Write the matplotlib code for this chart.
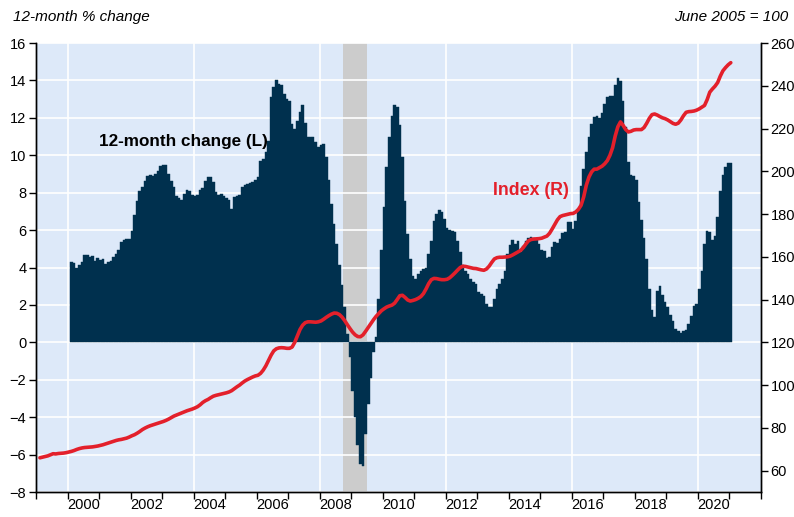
import numpy as np
import matplotlib
matplotlib.use("Agg")
import matplotlib.pyplot as plt

plt.rcParams['font.family'] = ['Liberation Sans', 'DejaVu Sans']

# 12-month % change, monthly, Feb 2000 .. Jan 2021
chg_2000 = [4.31, 4.22, 3.96, 4.15, 4.28, 4.67, 4.67, 4.55, 4.6, 4.37, 4.5]
chg_2001 = [4.4, 4.46, 4.2, 4.28, 4.37, 4.55, 4.72, 4.94, 5.35, 5.47, 5.5, 5.54]
chg_2002 = [5.97, 6.83, 7.58, 8.11, 8.29, 8.65, 8.9, 8.97, 8.9, 9.0, 9.18, 9.45]
chg_2003 = [9.5, 9.48, 9.0, 8.65, 8.29, 7.84, 7.72, 7.61, 7.93, 8.16, 8.11, 7.9]
chg_2004 = [7.84, 7.9, 8.15, 8.25, 8.65, 8.82, 8.82, 8.56, 8.02, 7.9, 7.93, 7.83]
chg_2005 = [7.72, 7.61, 7.13, 7.75, 7.84, 7.9, 8.29, 8.43, 8.47, 8.5, 8.56, 8.68]
chg_2006 = [8.82, 9.68, 9.8, 10.16, 10.78, 13.1, 13.64, 14.03, 13.8, 13.73, 13.28, 13.0]
chg_2007 = [12.92, 11.68, 11.4, 11.85, 12.3, 12.7, 11.7, 11.0, 11.0, 10.96, 10.7, 10.42]
chg_2008 = [10.55, 10.6, 9.9, 8.68, 7.4, 6.3, 5.25, 4.15, 3.05, 1.9, 0.47, -0.8]
chg_2009 = [-2.6, -4.0, -5.5, -6.5, -6.6, -4.9, -3.3, -1.9, -0.5, 0.3, 2.3, 4.95]
chg_2010 = [7.22, 9.36, 10.96, 12.12, 12.66, 12.6, 11.6, 9.89, 7.57, 5.79, 4.46, 3.57]
chg_2011 = [3.39, 3.65, 3.83, 3.92, 4.0, 4.72, 5.4, 6.5, 6.88, 7.1, 6.95, 6.6]
chg_2012 = [6.1, 6.0, 5.93, 5.88, 5.43, 4.81, 4.15, 3.83, 3.65, 3.39, 3.2, 3.12]
chg_2013 = [2.67, 2.6, 2.5, 2.05, 1.87, 1.87, 2.32, 2.85, 3.12, 3.39, 3.83, 4.72]
chg_2014 = [5.22, 5.47, 5.26, 5.44, 4.81, 5.17, 5.44, 5.58, 5.65, 5.58, 5.47, 5.26]
chg_2015 = [4.94, 4.87, 4.51, 4.58, 5.08, 5.35, 5.29, 5.53, 5.83, 5.88, 6.42, 6.42]
chg_2016 = [6.06, 6.5, 7.13, 8.38, 9.27, 10.16, 11.0, 11.68, 12.07, 12.12, 12.0, 12.25]
chg_2017 = [12.75, 13.14, 13.19, 13.19, 13.73, 14.14, 13.99, 12.92, 11.5, 9.63, 8.97, 8.91]
chg_2018 = [8.68, 7.49, 6.54, 5.58, 4.46, 2.85, 1.73, 1.37, 2.76, 3.03, 2.55, 2.14]
chg_2019 = [1.87, 1.48, 1.16, 0.71, 0.62, 0.48, 0.62, 0.66, 0.98, 1.43, 1.96, 2.05]
chg_2020 = [2.85, 3.83, 5.26, 5.94, 5.88, 5.47, 5.7, 6.72, 8.11, 8.97, 9.39, 9.57]
chg_2021 = [9.6]

# index level (June 2005 = 100), monthly, Feb 1999 .. Jan 2021
idx_1999 = [66.0, 66.3, 66.6, 66.9, 67.4, 67.9, 67.8, 68.0, 68.1, 68.2, 68.4]
idx_2000 = [68.7, 69.0, 69.4, 69.9, 70.3, 70.6, 70.8, 70.9, 71.0, 71.1, 71.3, 71.5]
idx_2001 = [71.8, 72.1, 72.5, 72.9, 73.3, 73.7, 74.1, 74.4, 74.6, 74.9, 75.2, 75.7]
idx_2002 = [76.3, 76.8, 77.5, 78.3, 79.2, 79.9, 80.5, 81.0, 81.4, 81.8, 82.2, 82.6]
idx_2003 = [83.0, 83.5, 84.1, 84.8, 85.5, 86.0, 86.5, 87.0, 87.5, 88.0, 88.4, 88.8]
idx_2004 = [89.3, 89.9, 90.8, 91.9, 92.7, 93.3, 94.1, 94.8, 95.2, 95.5, 95.8, 96.1]
idx_2005 = [96.4, 96.8, 97.4, 98.3, 99.2, 100.0, 101.0, 101.9, 102.6, 103.2, 103.8, 104.3]
idx_2006 = [104.6, 105.5, 107.0, 109.0, 111.5, 114.0, 116.0, 117.0, 117.4, 117.5, 117.4, 117.2]
idx_2007 = [117.2, 117.8, 120.0, 123.0, 126.0, 128.0, 129.2, 129.6, 129.6, 129.5, 129.4, 129.6]
idx_2008 = [130.0, 130.8, 131.7, 132.5, 133.2, 133.7, 133.6, 133.0, 131.8, 130.2, 128.3, 126.5]
idx_2009 = [124.8, 123.5, 122.7, 122.6, 123.5, 125.2, 127.0, 128.8, 130.6, 132.2, 133.5, 134.8]
idx_2010 = [135.7, 136.5, 137.0, 137.4, 138.3, 140.0, 141.8, 142.0, 141.0, 139.8, 139.3, 139.6]
idx_2011 = [140.0, 140.6, 141.4, 142.8, 145.0, 147.5, 149.3, 149.9, 149.8, 149.5, 149.3, 149.3]
idx_2012 = [149.5, 150.2, 151.3, 152.5, 153.8, 155.0, 155.6, 155.5, 155.2, 154.9, 154.6, 154.5]
idx_2013 = [154.2, 153.9, 153.7, 154.3, 155.6, 157.4, 159.0, 159.6, 159.8, 159.8, 159.9, 160.0]
idx_2014 = [160.3, 160.9, 161.6, 162.3, 163.0, 164.3, 166.0, 167.5, 168.1, 168.3, 168.4, 168.5]
idx_2015 = [168.7, 169.2, 169.7, 171.0, 173.0, 175.2, 177.3, 178.8, 179.3, 179.6, 179.9, 180.2]
idx_2016 = [180.3, 181.0, 182.2, 184.1, 188.0, 193.5, 197.3, 199.7, 201.0, 201.0, 201.7, 202.4]
idx_2017 = [203.5, 205.0, 207.5, 211.0, 216.5, 220.8, 223.1, 221.5, 219.5, 218.4, 218.7, 219.3]
idx_2018 = [219.5, 219.5, 219.5, 220.5, 222.5, 224.8, 226.5, 226.8, 226.3, 225.6, 225.0, 224.6]
idx_2019 = [224.0, 223.2, 222.4, 222.0, 222.5, 224.0, 226.0, 227.6, 227.9, 228.0, 228.2, 228.6]
idx_2020 = [229.2, 230.0, 230.8, 233.5, 237.0, 238.5, 239.8, 241.5, 244.5, 247.0, 248.5, 249.8]
idx_2021 = [250.8]

recession = (2008.75, 2009.5)
year_labels = list(range(2000, 2021, 2))

chg = (chg_2000 + chg_2001 + chg_2002 + chg_2003 + chg_2004 + chg_2005 + chg_2006
       + chg_2007 + chg_2008 + chg_2009 + chg_2010 + chg_2011 + chg_2012 + chg_2013
       + chg_2014 + chg_2015 + chg_2016 + chg_2017 + chg_2018 + chg_2019 + chg_2020
       + chg_2021)
idx = (idx_1999 + idx_2000 + idx_2001 + idx_2002 + idx_2003 + idx_2004 + idx_2005
       + idx_2006 + idx_2007 + idx_2008 + idx_2009 + idx_2010 + idx_2011 + idx_2012
       + idx_2013 + idx_2014 + idx_2015 + idx_2016 + idx_2017 + idx_2018 + idx_2019
       + idx_2020 + idx_2021)

# month start positions as decimal years
t_chg = 2000 + (1 + np.arange(len(chg))) / 12
t_idx = 1999 + (1 + np.arange(len(idx))) / 12 + 1 / 24

bg = "#dde9f9"
navy = "#00304e"
red = "#e3202b"

fig = plt.figure(figsize=(7.94, 5.17), dpi=100)
ax = fig.add_axes([36 / 794, 1 - 492 / 517, (761 - 36) / 794, (492 - 43) / 517])
ax.set_facecolor(bg)
ax2 = ax.twinx()

ax.axvspan(*recession, color="#cccccc", zorder=0.2, lw=0)
ax.bar(t_chg, chg, width=1 / 12, align="edge", color=navy, edgecolor=navy,
       linewidth=0.3, zorder=2)
ax2.plot(t_idx, idx, color=red, lw=2.6, solid_capstyle="round", zorder=3)

ax.set_xlim(1999, 2022)
ax.set_ylim(-8, 16)
ax.set_yticks(np.arange(-8, 17, 2))
ax2.set_ylim(50, 260)
ax2.set_yticks(np.arange(60, 261, 20))

# grid: horizontal every 2 (left), vertical every 4 years
ax.set_axisbelow(True)
ax.yaxis.grid(True, color="white", lw=1.2)
for yr in range(2000, 2021, 4):
    ax.axvline(yr, color="white", lw=1.2, zorder=0.5)

ax.set_xticks(np.arange(1999, 2023, 1))
ax.set_xticklabels([])
ax.set_xticks([y + 0.5 for y in year_labels], minor=True)
ax.set_xticklabels([str(y) for y in year_labels], minor=True)
ax.tick_params(axis="x", which="major", direction="out", length=5, width=1, color="black")
ax.tick_params(axis="x", which="minor", length=0, pad=4, labelsize=10.5)
ax.tick_params(axis="y", direction="out", length=5, width=1, labelsize=10.5, pad=2)
ax2.tick_params(axis="y", direction="out", length=5, width=1, labelsize=10.5, pad=2)

for a in (ax, ax2):
    a.spines["top"].set_visible(False)
    for s in ("left", "right", "bottom"):
        a.spines[s].set_color("black")
        a.spines[s].set_linewidth(1.0)

fig.text(13 / 794, 1 - 17 / 517, "12-month % change", fontsize=11, style="italic",
         ha="left", va="center")
fig.text(788 / 794, 1 - 17 / 517, "June 2005 = 100", fontsize=11, style="italic",
         ha="right", va="center")
ax.text(2001.0, 10.75, "12-month change (L)", fontsize=12.3, fontweight="bold",
        color="black", ha="left", va="center", zorder=5)
ax2.text(2013.5, 191, "Index (R)", fontsize=12.8, fontweight="bold", color=red,
         ha="left", va="center", zorder=5)

fig.savefig("out.png", dpi=100)
